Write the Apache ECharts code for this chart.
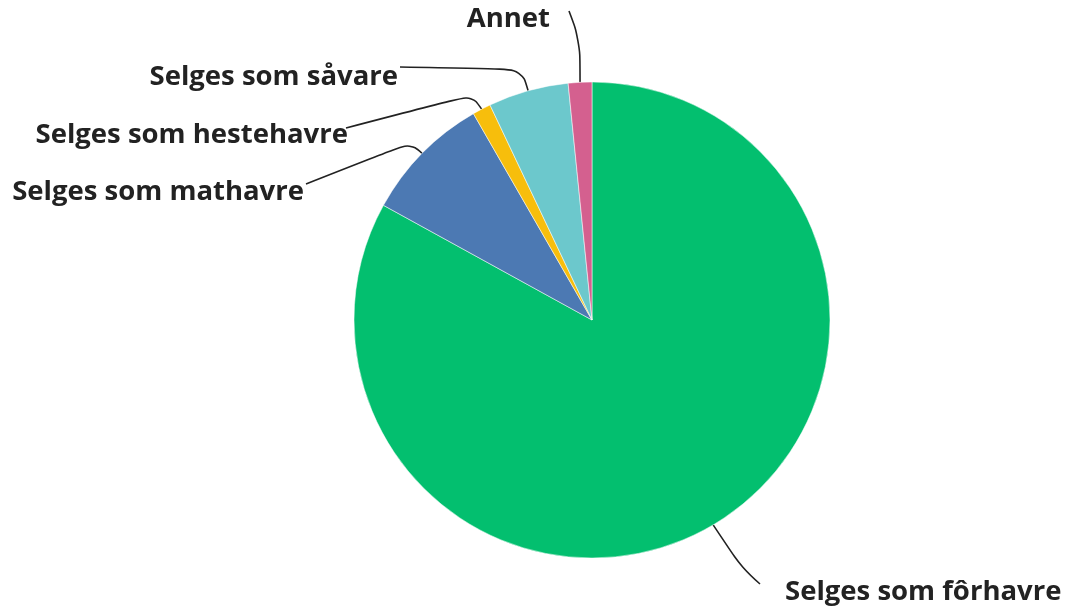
<!DOCTYPE html>
<html>
<head>
<meta charset="utf-8">
<script src="https://cdn.jsdelivr.net/npm/echarts@6/dist/echarts.min.js"></script>
<style>
  html, body { margin: 0; padding: 0; background: #fff; }
  #chart { width: 1067px; height: 612px; }
</style>
</head>
<body>
<div id="chart"></div>
<script>
// share of oats (percent), clockwise from top
let categories = ['Selges som fôrhavre', 'Selges som mathavre', 'Selges som hestehavre', 'Selges som såvare', 'Annet'];
let shares = [83.0, 8.7, 1.25, 5.45, 1.6];
let colors = ['#03bf6f', '#4c79b3', '#f7be0c', '#6cc8cc', '#d4608f'];

// label placement: [x, y, align, bend x, bend y]
let labelPlaces = [
    [785, 592, 'left', 742, 568],
    [304, 192, 'right', 410, 143],
    [348, 135, 'right', 472, 95],
    [398, 77, 'right', 522, 69],
    [550, 19, 'right', 580, 40]
];
let lineEnds = [[760, 584], [306, 184], [346, 128], [400, 67], [569, 11]];

let chartElement = document.getElementById('chart');
let chart = echarts.init(chartElement);

let data = categories.map((name, i) => ({
    name: name,
    value: shares[i],
    itemStyle: { color: colors[i] }
}));

let option = {
    animation: false,
    series: [
        {
            type: 'pie',
            center: [592, 320],
            radius: 238,
            startAngle: 90,
            clockwise: true,
            itemStyle: { borderColor: '#ffffff', borderWidth: 0.5 },
            label: {
                show: true,
                formatter: '{b}',
                fontFamily: 'Open Sans',
                fontWeight: 'bold',
                fontSize: 27.5,
                color: '#222'
            },
            labelLine: {
                show: true,
                smooth: 0.4,
                lineStyle: { color: '#222', width: 1.6 }
            },
            labelLayout: function (params) {
                let p = labelPlaces[params.dataIndex];
                let e = lineEnds[params.dataIndex];
                let anchor = params.labelLinePoints ? params.labelLinePoints[0] : [p[3], p[4]];
                return {
                    x: p[0],
                    y: p[1],
                    align: p[2],
                    verticalAlign: 'middle',
                    labelLinePoints: [anchor, [p[3], p[4]], e]
                };
            },
            data: data
        }
    ]
};

chart.setOption(option);
</script>
</body>
</html>
